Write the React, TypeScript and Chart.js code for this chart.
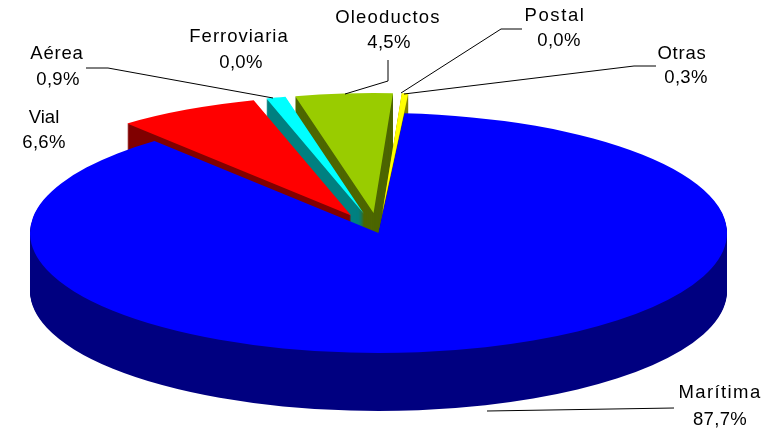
import React, { useEffect, useRef } from "react";
import { Chart, registerables } from "chart.js";

Chart.register(...registerables);

const categories = ["Vial", "Aérea", "Ferroviaria", "Oleoductos", "Postal", "Otras", "Marítima"];
const shares = [6.6, 0.9, 0.0, 4.5, 0.0, 0.3, 87.7];
const topColors = ["#ff0000", "#00ffff", "#ffffff", "#99cc00", "#ffffff", "#ffff00", "#0000ff"];
const sideColors = ["#800000", "#008080", "#808080", "#4d6600", "#808080", "#808000", "#000080"];
const exploded = [1, 1, 1, 1, 1, 1, 0];
// Far slices first, so that a nearer slice's top hides the wall of the one behind it
const paintOrder = [3, 4, 5, 2, 1, 0, 6];

// Projection of the flat pie on the page
const CX = 378.5;
const CY = 233;
const RX = 348.5;
const RY = 120;
const DEPTH = 58;
const EXPLODE = 0.1665;

// Label layout: label centre, value centre, letter spacing, leader polyline
const layout = [
  { n: [44, 118], v: [44, 143], ls: 0, line: [] },
  { n: [57, 54], v: [58, 80], ls: 0.8, line: [[86, 68], [108, 68], [273, 98]] },
  { n: [239, 37], v: [241, 63], ls: 1, line: [] },
  { n: [388, 18], v: [389, 43], ls: 1.2, line: [[388, 60], [388, 81], [345, 94]] },
  { n: [555, 16], v: [559, 41], ls: 1.6, line: [[522, 29], [501, 29], [401, 93]] },
  { n: [682, 54], v: [686, 78], ls: 0.8, line: [[656, 66], [634, 66], [404, 94]] },
  { n: [720, 393], v: [720, 420], ls: 1.4, line: [[674, 408], [487, 411]] },
];

const pie3d = {
  id: "pie3d",
  beforeDatasetDraw(chart: any, args: any) {
    const ctx = chart.ctx;
    const arcs = args.meta.data;
    paintOrder.forEach((i: number) => {
      const el = arcs[i];
      const r = el.outerRadius;
      const sx = RX / r;
      const sy = RY / r;
      const mid = (el.startAngle + el.endAngle) / 2;
      const shift = exploded[i] * EXPLODE * r;
      const base = el.options;
      const place = (dy: number) => {
        ctx.setTransform(sx, 0, 0, sy, CX - el.x * sx, CY + dy - el.y * sy);
        ctx.translate(Math.cos(mid) * shift, Math.sin(mid) * shift);
      };
      ctx.save();
      el.options = { ...base, backgroundColor: sideColors[i], borderWidth: 0 };
      for (let d = DEPTH; d > 0; d -= 1) {
        place(d);
        el.draw(ctx);
      }
      el.options = { ...base, backgroundColor: topColors[i], borderWidth: 0 };
      place(0);
      el.draw(ctx);
      el.options = base;
      ctx.restore();
    });
    return false;
  },
  afterDatasetsDraw(chart: any) {
    const ctx = chart.ctx;
    ctx.save();
    ctx.setTransform(1, 0, 0, 1, 0, 0);
    ctx.strokeStyle = "#000000";
    ctx.lineWidth = 1;
    layout.forEach((l) => {
      if (!l.line.length) return;
      ctx.beginPath();
      l.line.forEach((p: number[], j: number) => (j ? ctx.lineTo(p[0], p[1]) : ctx.moveTo(p[0], p[1])));
      ctx.stroke();
    });
    ctx.fillStyle = "#000000";
    ctx.font = '18.5px "Liberation Sans", Arial, sans-serif';
    ctx.textAlign = "center";
    ctx.textBaseline = "middle";
    categories.forEach((name, i) => {
      const l = layout[i];
      ctx.letterSpacing = l.ls + "px";
      ctx.fillText(name, l.n[0], l.n[1]);
      ctx.letterSpacing = "0.3px";
      ctx.fillText(shares[i].toFixed(1).replace(".", ",") + "%", l.v[0], l.v[1]);
    });
    ctx.restore();
  },
};

export default function App() {
  const ref = useRef<HTMLCanvasElement>(null);
  useEffect(() => {
    const chart = new Chart(ref.current as HTMLCanvasElement, {
      type: "pie",
      data: {
        labels: categories,
        datasets: [{ data: shares, backgroundColor: topColors, borderWidth: 0 }],
      },
      options: {
        animation: false,
        responsive: false,
        rotation: -40,
        plugins: { legend: { display: false }, tooltip: { enabled: false } },
      },
      plugins: [pie3d],
    } as any);
    return () => chart.destroy();
  }, []);
  return (
    <div style={{ position: "fixed", left: 0, top: 0, width: 768, height: 431, background: "#ffffff" }}>
      <canvas ref={ref} width={768} height={431} style={{ display: "block" }} />
    </div>
  );
}
